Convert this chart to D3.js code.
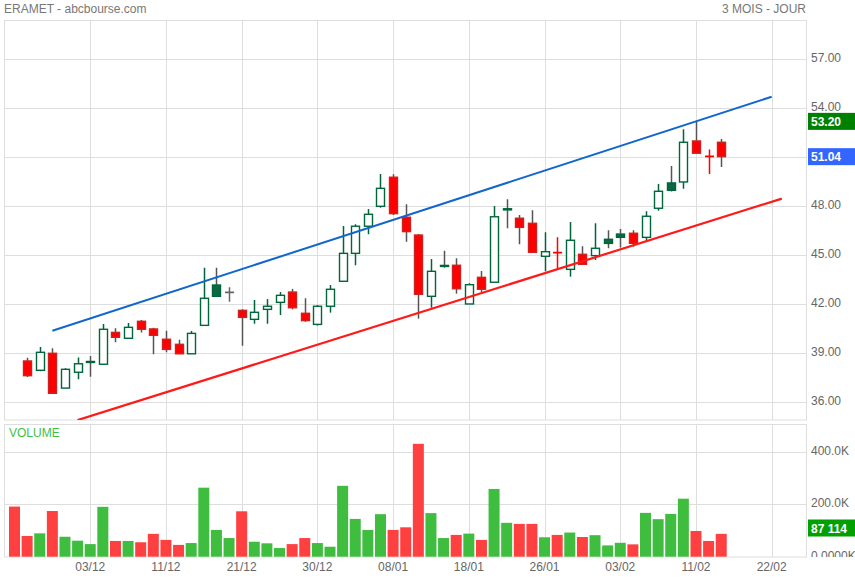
<!DOCTYPE html>
<html>
<head>
<meta charset="utf-8">
<script src="https://cdn.jsdelivr.net/npm/d3@7"></script>
<style>
  body { margin: 0; background: #fff; }
  svg text { font-family: "Liberation Sans", Arial, sans-serif; }
</style>
</head>
<body>
<svg id="chart" width="855" height="579"></svg>
<script>
// daily candles, first session has volume only
const opens  = [null, 38.53, 37.96, 39.00, 36.87, 37.84, 38.50, 38.33, 40.28, 39.92, 40.96, 40.49, 39.86, 39.55, 38.97, 40.71, 43.18, 42.73, 41.63, 41.08, 41.69, 42.12, 42.75, 41.45, 40.77, 41.88, 43.41, 45.12, 46.78, 48.00, 49.78, 47.33, 46.24, 42.49, 44.38, 44.39, 42.02, 43.65, 43.35, 47.85, 47.27, 46.96, 44.94, 45.16, 44.14, 45.06, 44.98, 45.98, 46.30, 46.35, 46.10, 47.88, 49.43, 49.49, 52.00, 51.06, 51.92];
const highs  = [null, 38.73, 39.38, 39.31, 38.08, 38.75, 38.83, 40.79, 40.53, 40.85, 41.04, 40.57, 40.38, 39.83, 40.36, 44.24, 44.24, 43.04, 41.69, 42.26, 42.32, 42.75, 42.94, 42.37, 41.95, 43.18, 46.79, 46.90, 47.84, 49.98, 49.96, 48.12, 46.30, 44.77, 45.28, 44.82, 43.29, 44.04, 48.02, 48.43, 47.47, 47.76, 46.41, 46.10, 47.04, 45.55, 46.96, 46.53, 46.61, 46.53, 47.69, 49.37, 50.47, 52.72, 53.20, 51.47, 52.12];
const lows   = [null, 37.55, 37.90, 36.55, 36.87, 37.41, 37.57, 38.33, 39.67, 39.92, 40.28, 38.94, 39.06, 38.97, 38.97, 40.71, 42.49, 42.16, 39.46, 40.81, 40.81, 41.34, 41.69, 40.93, 40.70, 41.49, 43.41, 44.39, 46.29, 47.91, 47.47, 45.83, 41.12, 41.79, 44.24, 42.65, 42.02, 42.75, 43.35, 46.65, 45.67, 45.18, 44.02, 44.18, 43.69, 44.45, 44.71, 45.43, 45.47, 45.53, 45.88, 47.73, 48.90, 49.08, 51.25, 49.98, 50.40];
const closes = [null, 37.63, 39.06, 36.55, 38.02, 38.36, 38.45, 40.47, 39.98, 40.59, 40.47, 40.10, 39.24, 38.97, 40.22, 42.37, 42.49, 42.73, 41.20, 41.51, 41.88, 42.55, 41.79, 41.00, 41.88, 42.92, 45.12, 46.78, 47.51, 49.10, 47.55, 46.45, 42.61, 44.02, 44.33, 42.95, 43.20, 42.92, 47.36, 47.78, 46.71, 45.18, 45.22, 45.16, 45.92, 44.45, 45.43, 45.73, 46.10, 45.73, 47.39, 48.92, 48.98, 51.92, 51.25, 51.06, 51.04];
// volume in thousands of shares
const volumes = [191, 79, 89, 174, 76, 61, 48, 190, 60, 60, 55, 87, 64, 45, 52, 263, 102, 71, 173, 57, 51, 33, 48, 71, 52, 38, 270, 144, 102, 162, 102, 112, 430, 166, 71, 83, 88, 64, 258, 129, 125, 125, 74, 83, 92, 75, 82, 43, 53, 47, 167, 143, 163, 221, 98, 60, 87.114];

const tickIndex  = [6, 12, 18, 24, 30, 36, 42, 48, 54, 60];
const tickLabels = ["03/12", "11/12", "21/12", "30/12", "08/01", "18/01", "26/01", "03/02", "11/02", "22/02"];

const priceTicks  = [36, 39, 42, 45, 48, 51, 54, 57];
const volumeTicks = [0, 200, 400];
const volumeTickLabels = ["0.0000K", "200.0K", "400.0K"];

// channel drawn on the chart: [bar index, price]
const upperLine = [[3, 40.38], [60, 54.71]];
const lowerLine = [[5, 34.91], [60.8, 48.47]];

const periodHigh = 53.20;
const lastClose = 51.04;
const lastVolume = 87.114;

const GREEN = "#00663a";
const GREEN_FILL = "#0b6845";
const RED = "#ff0000";
const GRID = "#dedede";

const price = { left: 4.5, right: 806.5, top: 20.5, bottom: 420 };
const vol = { top: 424.5, bottom: 557 };

const svg = d3.select("#chart");

const x = d3.scaleLinear().domain([0, 60]).range([14.5, 771.7]);
const y = d3.scaleLinear().domain([36, 57]).range([402.3, 59.3]);
const yVol = d3.scaleLinear().domain([0, 400]).range([556.7, 451.7]);

const defs = svg.append("defs");
defs.append("clipPath").attr("id", "clip-price")
  .append("rect")
  .attr("x", price.left).attr("y", price.top)
  .attr("width", price.right - price.left).attr("height", price.bottom - price.top);
defs.append("clipPath").attr("id", "clip-vol-axis")
  .append("rect")
  .attr("x", 800).attr("y", vol.top)
  .attr("width", 60).attr("height", vol.bottom - vol.top);

// header
svg.append("text").attr("x", 4).attr("y", 13)
  .attr("font-size", 12).attr("fill", "#777")
  .text("ERAMET - abcbourse.com");
svg.append("text").attr("x", 806).attr("y", 13)
  .attr("font-size", 12).attr("fill", "#777").attr("text-anchor", "end")
  .text("3 MOIS - JOUR");

// grid
const grid = svg.append("g").attr("stroke", GRID).attr("stroke-width", 1);
grid.selectAll("line.hp").data(priceTicks).join("line")
  .attr("x1", price.left).attr("x2", price.right)
  .attr("y1", (d) => Math.round(y(d)) + 0.5).attr("y2", (d) => Math.round(y(d)) + 0.5);
grid.selectAll("line.hv").data([200, 400]).join("line")
  .attr("class", "hv")
  .attr("x1", price.left).attr("x2", price.right)
  .attr("y1", (d) => Math.round(yVol(d)) + 0.5).attr("y2", (d) => Math.round(yVol(d)) + 0.5);
tickIndex.forEach((t) => {
  const gx = Math.round(x(t)) + 0.5;
  grid.append("line").attr("x1", gx).attr("x2", gx).attr("y1", price.top).attr("y2", price.bottom);
  grid.append("line").attr("x1", gx).attr("x2", gx).attr("y1", vol.top).attr("y2", vol.bottom);
});

// frames
svg.append("rect")
  .attr("x", price.left).attr("y", price.top)
  .attr("width", price.right - price.left).attr("height", price.bottom - price.top)
  .attr("fill", "none").attr("stroke", GRID);
svg.append("rect")
  .attr("x", price.left).attr("y", vol.top)
  .attr("width", price.right - price.left).attr("height", vol.bottom - vol.top)
  .attr("fill", "none").attr("stroke", GRID);

// price axis labels
svg.append("g").selectAll("text").data(priceTicks).join("text")
  .attr("x", 811).attr("y", (d) => y(d) + 3)
  .attr("font-size", 12).attr("fill", "#666")
  .text((d) => d.toFixed(2));

// candles
const candles = svg.append("g").attr("clip-path", "url(#clip-price)");

opens.forEach((o, i) => {
  if (o == null) return;
  const c = closes[i];
  const prev = closes[i - 1];
  const up = prev == null ? c >= o : c > prev;
  const cx = Math.round(x(i)) + 0.5;
  const doji = o === c;

  if (doji) {
    const col = up ? "#666" : RED;
    candles.append("line").attr("x1", cx).attr("x2", cx)
      .attr("y1", y(highs[i])).attr("y2", y(lows[i]))
      .attr("stroke", col).attr("stroke-width", 1.5);
    candles.append("line").attr("x1", cx - 4.5).attr("x2", cx + 4.5)
      .attr("y1", y(c)).attr("y2", y(c))
      .attr("stroke", col).attr("stroke-width", 1.8);
    return;
  }

  const hollow = c > o;
  const stroke = up ? GREEN : "#cc2222";
  const fill = hollow ? "#fff" : up ? GREEN_FILL : RED;
  const wick = hollow ? (up ? GREEN : RED) : "#555";

  candles.append("line").attr("x1", cx).attr("x2", cx)
    .attr("y1", y(highs[i])).attr("y2", y(lows[i]))
    .attr("stroke", wick).attr("stroke-width", 1.5);

  const top = y(Math.max(o, c));
  const h = Math.max(1, Math.abs(y(o) - y(c)));
  candles.append("rect")
    .attr("x", cx - 4).attr("y", top)
    .attr("width", 8).attr("height", h)
    .attr("fill", fill).attr("stroke", stroke).attr("stroke-width", 1.4);
});

// channel lines
const line = d3.line().x((d) => x(d[0])).y((d) => y(d[1]));
candles.append("path").attr("d", line(upperLine))
  .attr("fill", "none").attr("stroke", "#1166cc").attr("stroke-width", 2);
candles.append("path").attr("d", line(lowerLine))
  .attr("fill", "none").attr("stroke", "#ff1a1a").attr("stroke-width", 2.2);

// price boxes
function priceBox(value, color, label) {
  const cy = y(value);
  svg.append("rect").attr("x", 808).attr("y", cy - 8.5)
    .attr("width", 47).attr("height", 17).attr("fill", color);
  svg.append("text").attr("x", 811).attr("y", cy + 4.5)
    .attr("font-size", 12).attr("font-weight", "bold").attr("fill", "#fff")
    .text(label);
}
priceBox(periodHigh, "#008000", periodHigh.toFixed(2));
priceBox(lastClose, "#3366ff", lastClose.toFixed(2));

// volume
svg.append("text").attr("x", 9).attr("y", 437)
  .attr("font-size", 12).attr("fill", "#3fbf3f")
  .text("VOLUME");

svg.append("g").selectAll("rect").data(volumes).join("rect")
  .attr("x", (d, i) => x(i) - 5.5)
  .attr("y", (d) => yVol(d))
  .attr("width", 11)
  .attr("height", (d) => yVol(0) - yVol(d))
  .attr("fill", (d, i) => {
    const prev = closes[i - 1];
    const up = closes[i] != null && prev != null && closes[i] > prev;
    return up ? "#3fbd3f" : "#ff4040";
  });

svg.append("g").attr("clip-path", "url(#clip-vol-axis)")
  .selectAll("text").data(volumeTicks).join("text")
  .attr("x", 811).attr("y", (d) => yVol(d) + 3)
  .attr("font-size", 12).attr("fill", "#666")
  .text((d, i) => volumeTickLabels[i]);

const fmt = d3.formatLocale({ decimal: ",", thousands: " ", grouping: [3], currency: ["", ""] }).format(",d");
const vy = Math.min(yVol(lastVolume), vol.bottom - 29);
svg.append("rect").attr("x", 808).attr("y", vy - 8.5)
  .attr("width", 47).attr("height", 17).attr("fill", "#00a000");
svg.append("text").attr("x", 811).attr("y", vy + 4.5)
  .attr("font-size", 12).attr("font-weight", "bold").attr("fill", "#fff")
  .text(fmt(Math.round(lastVolume * 1000)));

// date labels
svg.append("g").selectAll("text").data(tickIndex).join("text")
  .attr("x", (d) => x(d)).attr("y", 571)
  .attr("font-size", 12).attr("fill", "#666").attr("text-anchor", "middle")
  .text((d, i) => tickLabels[i]);
</script>
</body>
</html>
